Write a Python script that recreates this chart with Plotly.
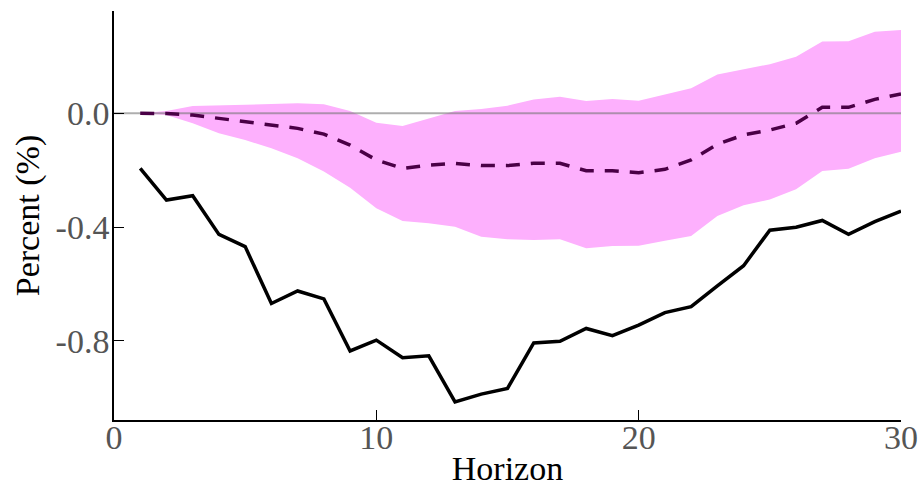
import plotly.graph_objects as go

# Impulse-response horizons
horizon = list(range(1, 31))

# Point response (solid black line)
response = [-0.194, -0.305, -0.290, -0.426, -0.469, -0.669, -0.625, -0.653, -0.836, -0.798,
            -0.860, -0.853, -1.015, -0.988, -0.968, -0.808, -0.802, -0.757, -0.782, -0.745,
            -0.701, -0.680, -0.607, -0.536, -0.411, -0.401, -0.377, -0.426, -0.381, -0.344]

# Central estimate (dashed line)
median = [0.000, -0.001, -0.006, -0.018, -0.029, -0.041, -0.053, -0.073, -0.112, -0.164,
          -0.194, -0.182, -0.176, -0.184, -0.184, -0.176, -0.176, -0.202, -0.202, -0.209,
          -0.197, -0.164, -0.109, -0.076, -0.059, -0.035, 0.021, 0.021, 0.049, 0.068]

# Confidence band bounds
upper = [0.000, 0.008, 0.026, 0.028, 0.030, 0.034, 0.035, 0.032, 0.008, -0.033,
         -0.045, -0.018, 0.008, 0.015, 0.027, 0.049, 0.058, 0.043, 0.050, 0.044,
         0.067, 0.088, 0.137, 0.155, 0.173, 0.199, 0.253, 0.254, 0.287, 0.293]
lower = [0.000, -0.006, -0.035, -0.070, -0.094, -0.123, -0.158, -0.205, -0.262, -0.334,
         -0.379, -0.387, -0.399, -0.434, -0.443, -0.446, -0.443, -0.475, -0.467, -0.466,
         -0.448, -0.432, -0.361, -0.323, -0.303, -0.267, -0.203, -0.195, -0.158, -0.135]

x_ticks = [0, 10, 20, 30]
x_tick_labels = ["0", "10", "20", "30"]
y_ticks = [0.0, -0.4, -0.8]
y_tick_labels = ["0.0", "-0.4", "-0.8"]

band_color = "#fdb0fd"
font_family = "Liberation Serif"

fig = go.Figure()

# Shaded band: upper edge then lower edge filled to it
fig.add_trace(go.Scatter(x=horizon, y=upper, mode="lines", line=dict(width=0, color=band_color),
                         hoverinfo="skip", showlegend=False))
fig.add_trace(go.Scatter(x=horizon, y=lower, mode="lines", line=dict(width=0, color=band_color),
                         fill="tonexty", fillcolor=band_color, hoverinfo="skip", showlegend=False))

# Zero reference line
fig.add_trace(go.Scatter(x=[0, 30], y=[0, 0], mode="lines",
                         line=dict(color="rgba(120,120,120,0.6)", width=2),
                         hoverinfo="skip", showlegend=False))

fig.add_trace(go.Scatter(x=horizon, y=median, mode="lines",
                         line=dict(color="#4a0046", width=3.5, dash="14px,11px"),
                         showlegend=False))
fig.add_trace(go.Scatter(x=horizon, y=response, mode="lines",
                         line=dict(color="black", width=3.5),
                         showlegend=False))

axis_common = dict(
    showgrid=False, zeroline=False, showline=True, linecolor="black", linewidth=1.5,
    ticks="inside", ticklen=10, tickwidth=1, tickcolor="black", automargin=False,
    tickfont=dict(family=font_family, size=34, color="#555555"),
)

fig.update_layout(
    width=922, height=489,
    margin=dict(l=114, r=21, t=11, b=69),
    paper_bgcolor="white", plot_bgcolor="white",
    font=dict(family=font_family),
    xaxis=dict(range=[0, 30], tickvals=x_ticks, ticktext=x_tick_labels, ticklabelstandoff=-14,
               title=dict(text="Horizon", font=dict(family=font_family, size=34, color="black"),
                          standoff=2),
               **axis_common),
    yaxis=dict(range=[-1.079, 0.36], tickvals=y_ticks, ticktext=y_tick_labels, ticklabelstandoff=-4,
               title=dict(text="Percent (%)", font=dict(family=font_family, size=34, color="black"),
                          standoff=6),
               **axis_common),
)

fig.write_html("out.html")
